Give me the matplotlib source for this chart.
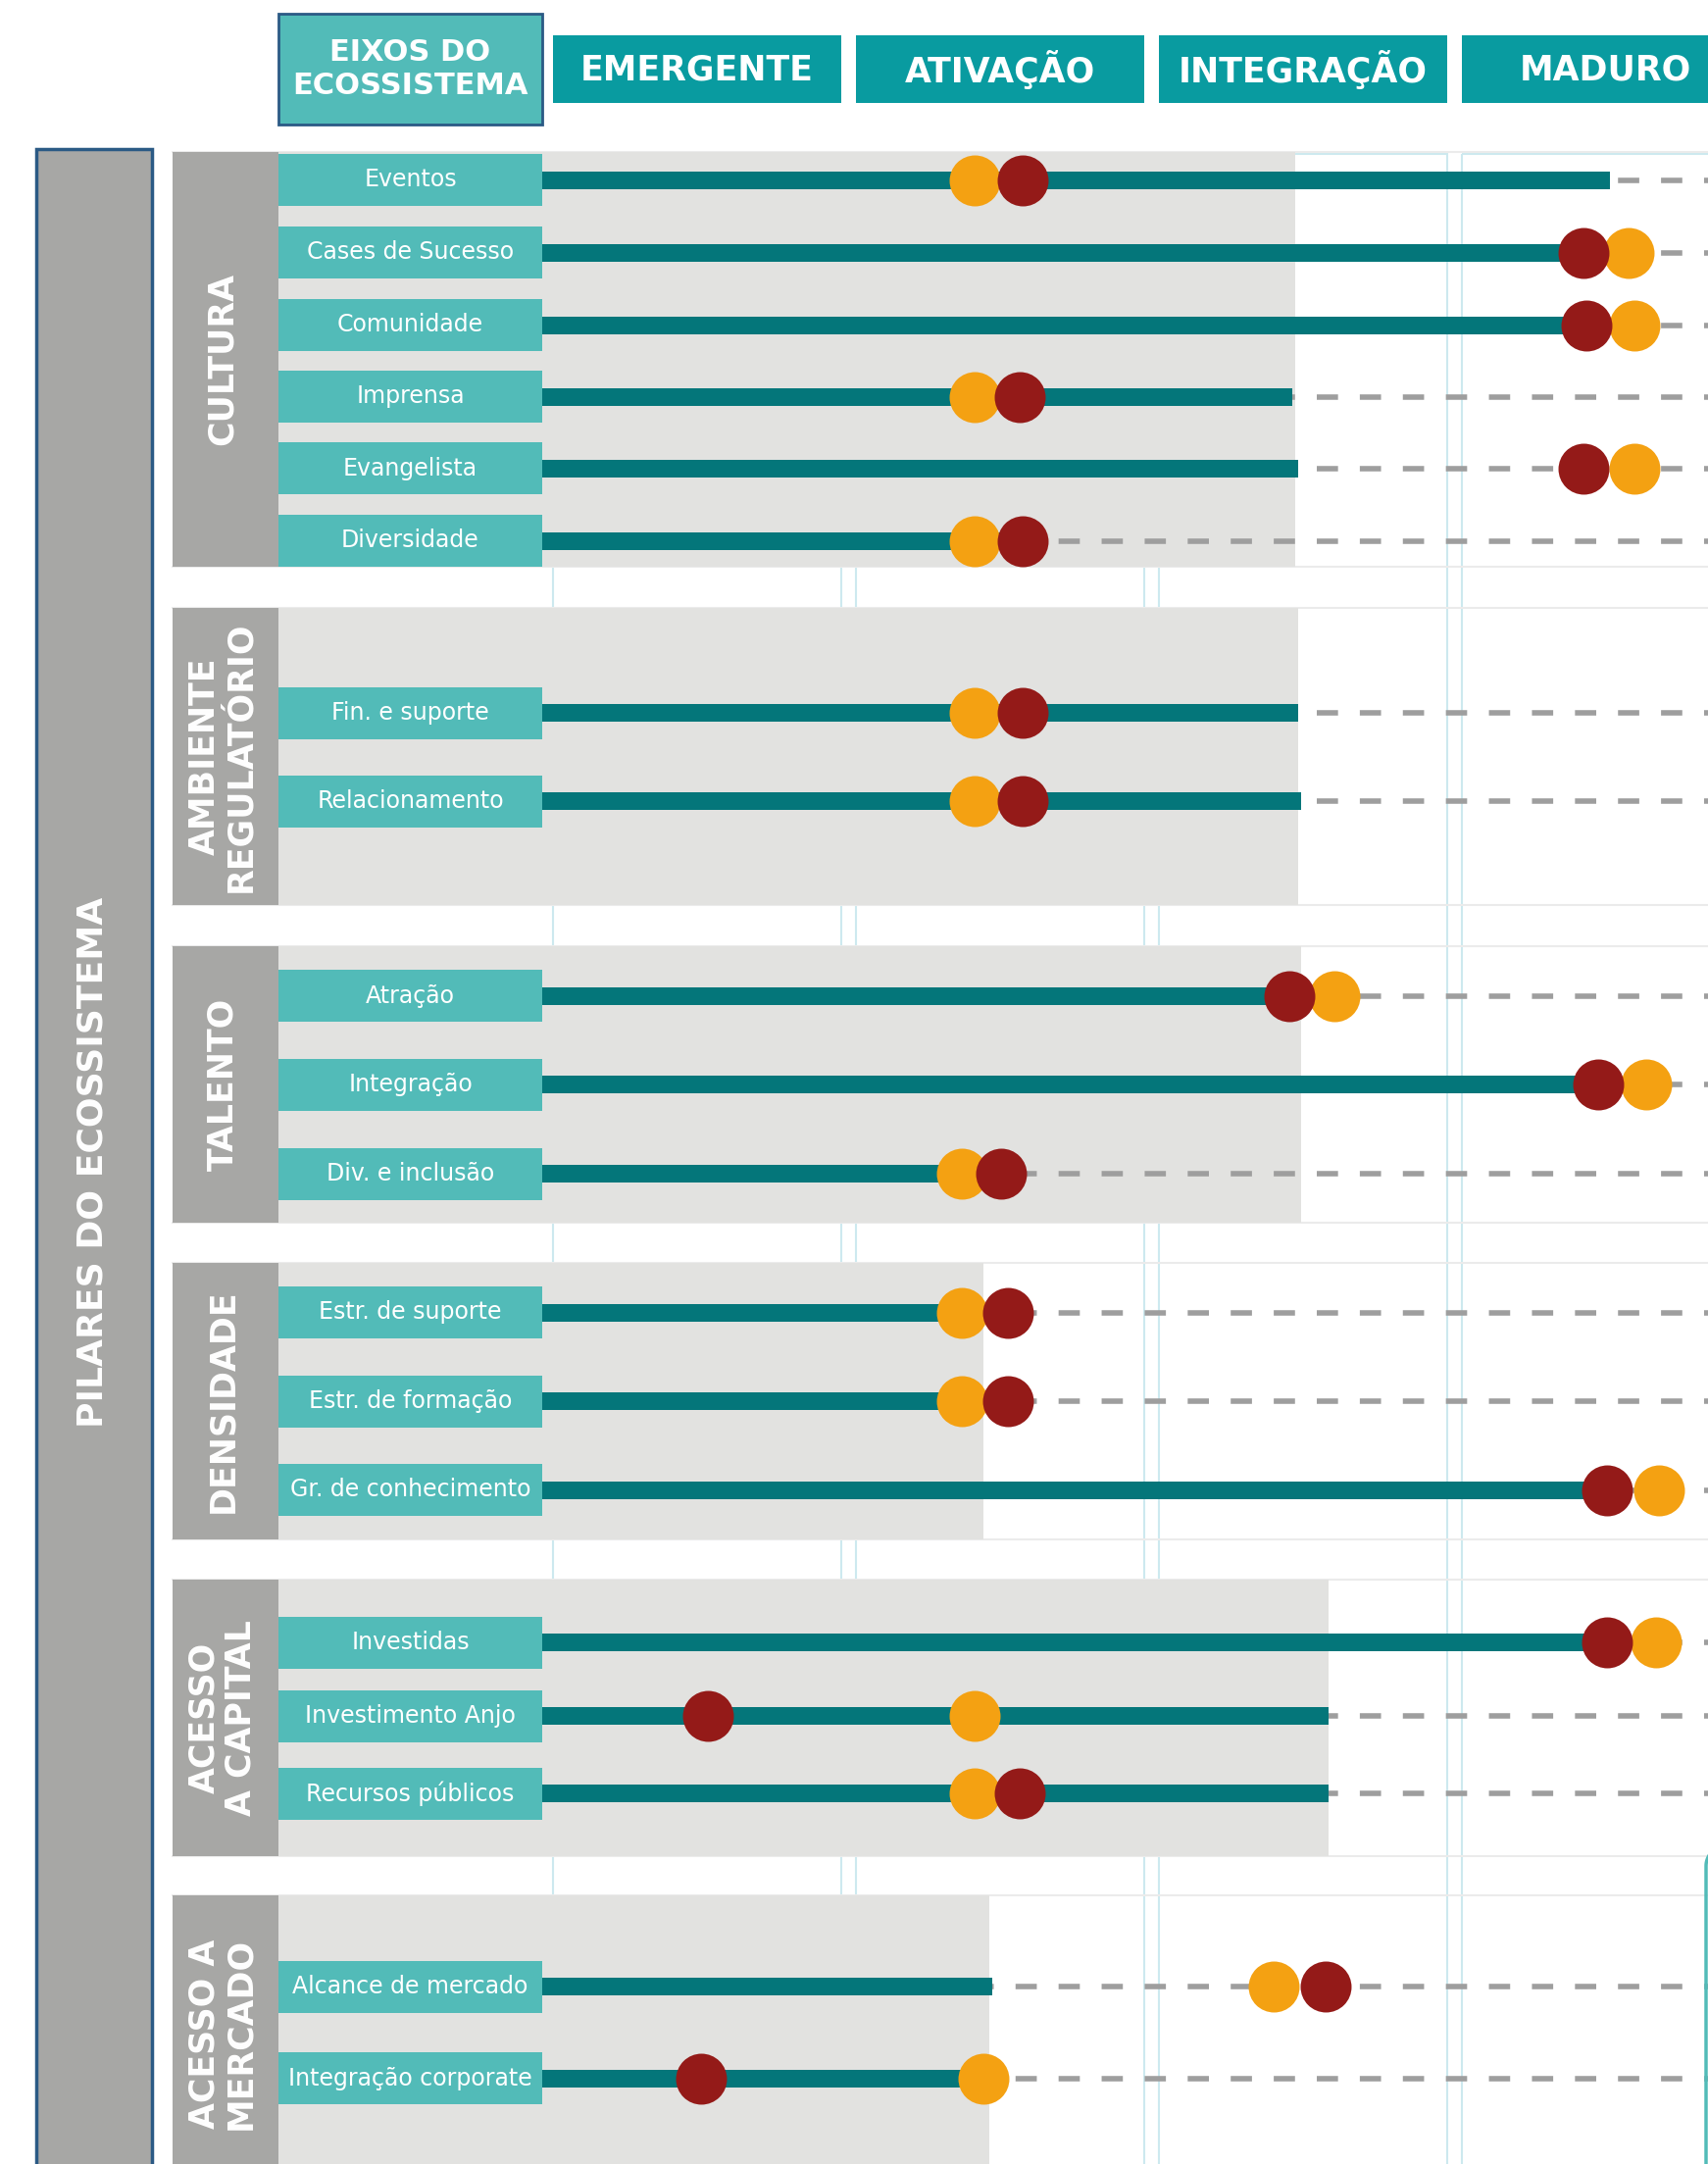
import numpy as np
import matplotlib.pyplot as plt
from matplotlib.patches import Rectangle

# ---- data -------------------------------------------------------------
stages = ['EMERGENTE', 'ATIVAÇÃO', 'INTEGRAÇÃO', 'MADURO']
groups = ['CULTURA', 'AMBIENTE\nREGULATÓRIO', 'TALENTO', 'DENSIDADE',
          'ACESSO\nA CAPITAL', 'ACESSO A\nMERCADO']
group_rows = [
    ['Eventos', 'Cases de Sucesso', 'Comunidade', 'Imprensa', 'Evangelista', 'Diversidade'],
    ['Fin. e suporte', 'Relacionamento'],
    ['Atração', 'Integração', 'Div. e inclusão'],
    ['Estr. de suporte', 'Estr. de formação', 'Gr. de conhecimento'],
    ['Investidas', 'Investimento Anjo', 'Recursos públicos'],
    ['Alcance de mercado', 'Integração corporate'],
]
# values in stage units: 0 = EMERGENTE, 1 = ATIVAÇÃO, 2 = INTEGRAÇÃO, 3 = MADURO
bar_end = [3.49, 3.40, 3.41, 2.44, 2.46, 1.55,
           2.46, 2.47,
           2.43, 3.45, 1.48,
           1.50, 1.50, 3.48,
           3.48, 2.56, 2.56,
           1.45, 1.42]
orange_val = [1.39, 3.55, 3.57, 1.39, 3.57, 1.39,
              1.39, 1.39,
              2.58, 3.61, 1.35,
              1.35, 1.35, 3.65,
              3.64, 1.39, 1.39,
              2.38, 1.42]
red_val = [1.55, 3.40, 3.41, 1.54, 3.40, 1.55,
           1.55, 1.55,
           2.43, 3.45, 1.48,
           1.50, 1.50, 3.48,
           3.48, 0.51, 1.54,
           2.55, 0.49]
group_shade = [2.45, 2.46, 2.47, 1.42, 2.56, 1.44]

# ---- layout (pixels) --------------------------------------------------
W, H = 1742, 2207
group_top = [155, 620, 965, 1288, 1611, 1933]
group_bot = [578, 923, 1247, 1570, 1893, 2215]
row_y = [183.5, 257.5, 331.5, 404.5, 477.5, 551.5,
         727, 817,
         1015.5, 1106, 1197,
         1338.5, 1429, 1519.5,
         1675, 1750, 1829,
         2026, 2119.5]
X0, UNIT = 564, 309          # pixel x of stage 0 and pixel width of one stage


def sx(px):
    return (px - X0) / UNIT


c_head = '#099BA0'
c_lab = '#52BBB8'
c_bar = '#04767A'
c_org = '#F4A112'
c_red = '#941A18'
c_panel = '#E2E2E0'
c_grey = '#A7A7A5'
c_dash = '#9E9E9E'
c_cyan = '#CDE9EF'
c_navy = '#2B5A85'

fig = plt.figure(figsize=(W / 100, H / 100), dpi=100)
ax = fig.add_axes([0, 0, 1, 1])
ax.set_xlim(sx(0), sx(W))
ax.set_ylim(H, 0)
ax.axis('off')

# header
ax.add_patch(Rectangle((sx(284), 14), sx(553) - sx(284), 113, fc=c_lab, ec=c_navy, lw=2))
ax.text(sx(418.5), 70.5, 'EIXOS DO\nECOSSISTEMA', color='white', fontsize=22,
        fontweight='bold', ha='center', va='center', linespacing=1.25)
for i, st in enumerate(stages):
    ax.add_patch(Rectangle((i, 36), 0.95, 69, fc=c_head, ec='none'))
    ax.text(i + 0.475, 71, st, color='white', fontsize=25, fontweight='bold',
            ha='center', va='center')
    # light column outline
    ax.add_patch(Rectangle((i, 157), 0.95, 2300, fc='none', ec=c_cyan, lw=1.5, zorder=1))

# pillar column
ax.add_patch(Rectangle((sx(37), 152), sx(155) - sx(37), 2200, fc=c_grey, ec=c_navy, lw=2.5, zorder=3))
ax.text(sx(95), 1185, 'PILARES DO ECOSSISTEMA', rotation=90, color='white', fontsize=26,
        fontweight='bold', ha='center', va='center', zorder=4)

k = 0
for g, name in enumerate(groups):
    top, bot = group_top[g], group_bot[g]
    for yy in (top, bot):
        ax.plot([sx(176), sx(W)], [yy, yy], color='#EBEBEB', lw=1.5, zorder=1)
    ax.add_patch(Rectangle((sx(284), top), group_shade[g] - sx(284), bot - top,
                           fc=c_panel, ec='none', zorder=2))
    ax.add_patch(Rectangle((sx(176), top), sx(284) - sx(176), bot - top,
                           fc=c_grey, ec='none', zorder=3))
    ax.text(sx(227), (top + bot) / 2, name, rotation=90, color='white', fontsize=25,
            fontweight='bold', ha='center', va='center', linespacing=1.1, zorder=4)
    for lab in group_rows[g]:
        y = row_y[k]
        ax.add_patch(Rectangle((sx(284), y - 26.5), sx(553) - sx(284), 53,
                               fc=c_lab, ec='none', zorder=3))
        ax.text(sx(418.5), y, lab, color='white', fontsize=17, ha='center',
                va='center', zorder=4)
        ax.plot([sx(553), sx(W)], [y, y], color=c_dash, lw=4,
                linestyle=(0, (3.9, 4.0)), solid_capstyle='butt', zorder=4)
        k += 1

ax.barh(row_y, np.array(bar_end) - sx(553), left=sx(553), height=18,
        color=c_bar, zorder=5)
ax.scatter(orange_val, row_y, s=1400, color=c_org, linewidths=0, zorder=6)
ax.scatter(red_val, row_y, s=1400, color=c_red, linewidths=0, zorder=7)

# partial teal frame at the lower right corner
t = np.linspace(0, np.pi / 2, 20)
ax.plot(sx(1740 + 20 * (1 - np.cos(t)))[::-1].tolist() + [sx(1740)],
        list((1903 - 20 * np.sin(t))[::-1]) + [H + 10],
        color=c_lab, lw=2.5, zorder=8)

fig.savefig('out.png', dpi=100)
